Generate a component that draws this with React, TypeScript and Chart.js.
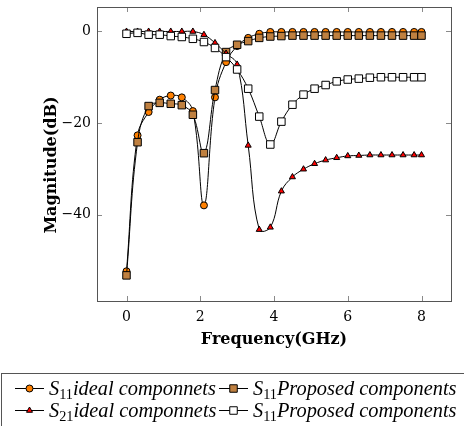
import React, { useEffect, useRef } from 'react';
import { Chart, registerables } from 'chart.js';

Chart.register(...registerables);

const freq = [0, 0.3, 0.6, 0.9, 1.2, 1.5, 1.8, 2.1, 2.4, 2.7, 3.0, 3.3, 3.6, 3.9, 4.2, 4.5, 4.8, 5.1, 5.4, 5.7, 6.0, 6.3, 6.6, 6.9, 7.2, 7.5, 7.8, 8.0];
const s11Ideal = [-52.4, -22.7, -17.6, -14.9, -14.0, -14.4, -17.4, -38.0, -14.4, -6.7, -3.2, -1.4, -0.5, -0.1, -0.1, -0.1, -0.1, -0.1, -0.1, -0.1, -0.1, -0.1, -0.1, -0.1, -0.1, -0.1, -0.1, -0.1];
const s11Proposed = [-53.3, -24.2, -16.3, -15.6, -15.8, -16.1, -18.2, -26.6, -12.8, -4.5, -2.9, -2.1, -1.4, -1.1, -1.0, -0.9, -0.9, -0.9, -0.9, -0.9, -0.9, -0.9, -0.9, -0.9, -0.9, -0.9, -0.9, -0.9];
const s21Ideal = [0, 0, 0, 0, 0, 0, 0, -0.7, -2.5, -4.8, -7.2, -24.9, -43.3, -42.8, -34.9, -31.8, -30.1, -28.9, -28.1, -27.6, -27.2, -27.1, -27.0, -27.0, -27.0, -27.0, -27.0, -27.0];
const s21Proposed = [-0.5, -0.3, -0.7, -0.7, -1.0, -1.2, -1.6, -2.3, -3.6, -5.6, -8.3, -12.5, -18.6, -24.7, -19.7, -16.0, -13.8, -12.5, -11.7, -10.9, -10.5, -10.3, -10.1, -10.0, -10.0, -10.0, -10.0, -10.0];

const xTicks = [0, 2, 4, 6, 8];
const yTicks = [-40, -20, 0];
const xTitle = 'Frequency(GHz)';
const yTitle = 'Magnitude(dB)';
// [main, subscript, rest]
const legendTexts = [
  ['S', '11', 'ideal componnets'],
  ['S', '11', 'Proposed components'],
  ['S', '21', 'ideal componnets'],
  ['S', '11', 'Proposed components'],
];

const SERIF = "'DejaVu Serif', serif";
const LEG = "'Liberation Serif', serif";
const ORANGE = 'rgb(255,128,0)';
const BROWN = 'rgb(191,128,64)';
const RED = 'rgb(255,0,0)';
const WHITE = '#ffffff';

const fmt = (v: number) => (v < 0 ? '\u2212' + Math.abs(v) : String(v));

function drawMarker(ctx: CanvasRenderingContext2D, style: string, fill: string, x: number, y: number) {
  ctx.save();
  ctx.fillStyle = fill;
  ctx.strokeStyle = '#000';
  ctx.lineWidth = 1;
  ctx.beginPath();
  if (style === 'circle') {
    ctx.arc(x, y, 3.5, 0, Math.PI * 2);
  } else if (style === 'rect') {
    ctx.rect(x - 3.75, y - 3.75, 7.5, 7.5);
  } else {
    const r = 3.5;
    for (let k = 0; k < 3; k++) {
      const a = (k * 2 * Math.PI) / 3;
      const px = x + Math.sin(a) * r;
      const py = y - Math.cos(a) * r;
      if (k === 0) ctx.moveTo(px, py);
      else ctx.lineTo(px, py);
    }
    ctx.closePath();
  }
  ctx.fill();
  ctx.stroke();
  ctx.restore();
}

const legendMarkers: [string, string][] = [
  ['circle', ORANGE],
  ['rect', BROWN],
  ['triangle', RED],
  ['rect', WHITE],
];

const framePlugin = {
  id: 'pgfFrame',
  beforeDatasetsDraw(chart: any) {
    const { ctx, chartArea, scales } = chart;
    const { left, right, top, bottom } = chartArea;
    const x = scales.x;
    const y = scales.y;
    ctx.save();
    ctx.strokeStyle = '#8a8a8a';
    ctx.lineWidth = 1;
    ctx.beginPath();
    xTicks.forEach((v) => {
      const px = Math.round(x.getPixelForValue(v)) + 0.5;
      ctx.moveTo(px, bottom);
      ctx.lineTo(px, bottom - 5);
      ctx.moveTo(px, top);
      ctx.lineTo(px, top + 5);
    });
    yTicks.forEach((v) => {
      const py = Math.round(y.getPixelForValue(v)) + 0.5;
      ctx.moveTo(left, py);
      ctx.lineTo(left + 5, py);
      ctx.moveTo(right, py);
      ctx.lineTo(right - 5, py);
    });
    ctx.stroke();
    ctx.strokeStyle = '#555';
    ctx.strokeRect(Math.round(left) + 0.5, Math.round(top) + 0.5, Math.round(right - left), Math.round(bottom - top));
    ctx.translate(left - 45, (top + bottom) / 2 + 11);
    ctx.rotate(-Math.PI / 2);
    ctx.font = `bold 16px ${SERIF}`;
    ctx.textAlign = 'center';
    ctx.textBaseline = 'middle';
    ctx.fillStyle = '#000';
    ctx.fillText(yTitle, 0, 0);
    ctx.restore();
  },
  afterDraw(chart: any) {
    const { ctx } = chart;
    const boxTop = chart.chartArea.bottom + 72;
    ctx.save();
    ctx.strokeStyle = '#555';
    ctx.lineWidth = 1;
    ctx.strokeRect(1.5, boxTop + 0.5, 480, 80);
    const measure = (t: string[], f: number) => {
      ctx.font = `italic ${f}px ${LEG}`;
      let w = ctx.measureText(t[0]).width + ctx.measureText(t[2]).width;
      ctx.font = `${f * 0.7}px ${LEG}`;
      w += ctx.measureText(t[1]).width;
      return w;
    };
    const f = (10 * 167) / measure(legendTexts[0], 10);
    const rows = [boxTop + 15, boxTop + 37];
    const cols = [15, 219];
    legendTexts.forEach((t, i) => {
      const cx = cols[i % 2];
      const cy = rows[Math.floor(i / 2)];
      ctx.strokeStyle = '#000';
      ctx.beginPath();
      ctx.moveTo(cx, cy + 0.5);
      ctx.lineTo(cx + 29, cy + 0.5);
      ctx.stroke();
      drawMarker(ctx, legendMarkers[i][0], legendMarkers[i][1], cx + 14.5, cy + 0.5);
      let tx = cx + 34;
      ctx.fillStyle = '#000';
      ctx.textBaseline = 'alphabetic';
      ctx.textAlign = 'left';
      const base = cy + f * 0.33;
      ctx.font = `italic ${f}px ${LEG}`;
      ctx.fillText(t[0], tx, base);
      tx += ctx.measureText(t[0]).width;
      ctx.font = `${f * 0.7}px ${LEG}`;
      ctx.fillText(t[1], tx, base + f * 0.22);
      tx += ctx.measureText(t[1]).width;
      ctx.font = `italic ${f}px ${LEG}`;
      ctx.fillText(t[2], tx, base);
    });
    ctx.restore();
  },
};

const pts = (ys: number[]) => freq.map((f, i) => ({ x: f, y: ys[i] }));

export default function App() {
  const ref = useRef<HTMLCanvasElement | null>(null);
  useEffect(() => {
    if (!ref.current) return;
    const common = {
      borderColor: '#000',
      borderWidth: 1,
      tension: 0.4,
      pointBorderColor: '#000',
      pointBorderWidth: 1,
      fill: false,
    };
    const chart = new Chart(ref.current, {
      type: 'line',
      data: {
        datasets: [
          { ...common, label: 'S11 ideal componnets', data: pts(s11Ideal), pointStyle: 'circle', pointRadius: 3.5, pointBackgroundColor: ORANGE, order: 3 },
          { ...common, label: 'S11 Proposed components', data: pts(s11Proposed), pointStyle: 'rect', pointRadius: 5.3, pointBackgroundColor: BROWN, order: 2 },
          { ...common, label: 'S21 ideal componnets', data: pts(s21Ideal), pointStyle: 'triangle', pointRadius: 3.5, pointBackgroundColor: RED, order: 1 },
          { ...common, label: 'S11 Proposed components ', data: pts(s21Proposed), pointStyle: 'rect', pointRadius: 5.3, pointBackgroundColor: WHITE, order: 0 },
        ],
      } as any,
      options: {
        animation: false,
        responsive: true,
        maintainAspectRatio: false,
        layout: { padding: { left: 0, top: 7, right: 13, bottom: 75 } },
        plugins: { legend: { display: false }, tooltip: { enabled: false } },
        scales: {
          x: {
            type: 'linear',
            min: -0.8,
            max: 8.8,
            grid: { display: false, drawTicks: false },
            border: { display: false },
            afterBuildTicks: (s: any) => {
              s.ticks = xTicks.map((v) => ({ value: v }));
            },
            afterFit: (s: any) => {
              s.height = 50;
              s.paddingLeft = 0;
              s.paddingRight = 0;
            },
            ticks: { padding: 8, color: '#000', font: { family: SERIF, size: 14 }, maxRotation: 0, callback: (v: any) => fmt(Number(v)) },
            title: { display: true, text: xTitle, color: '#000', font: { family: SERIF, size: 16, weight: 'bold' }, padding: { top: 0, bottom: 2 } },
          },
          y: {
            type: 'linear',
            min: -58.9,
            max: 5.35,
            grid: { display: false, drawTicks: false },
            border: { display: false },
            afterBuildTicks: (s: any) => {
              s.ticks = yTicks.map((v) => ({ value: v }));
            },
            afterFit: (s: any) => {
              s.width = 97;
              s.paddingTop = 0;
              s.paddingBottom = 0;
            },
            ticks: { padding: 6, color: '#000', font: { family: SERIF, size: 14 }, callback: (v: any) => fmt(Number(v)) },
          },
        },
      } as any,
      plugins: [framePlugin],
    });
    return () => chart.destroy();
  }, []);
  return (
    <div style={{ position: 'fixed', left: 0, top: 0, width: 464, height: 426 }}>
      <canvas ref={ref} />
    </div>
  );
}
